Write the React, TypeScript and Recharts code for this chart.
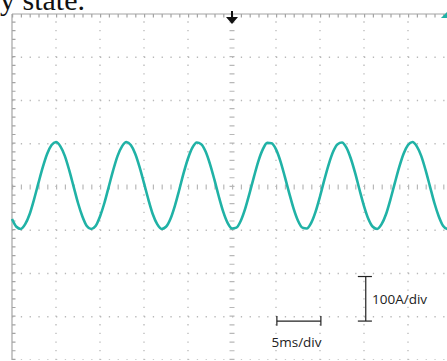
import { LineChart, Line, XAxis, YAxis, ReferenceLine, ReferenceDot } from 'recharts'

// scope capture: phase current, 5 ms/div, 100 A/div, one sample every 0.5 ms
const sampleStepMs = 0.5
const currentA = [
	-74, -92, -97, -86, -63, -29, 9, 46, 77, 97,
	104, 94, 72, 39, 1, -37, -68, -90, -97, -90,
	-68, -37, 1, 39, 72, 94, 104, 97, 77, 46,
	9, -29, -63, -86, -97, -92, -74, -44, -7, 32,
	66, 91, 103, 99, 82, 53, 17, -22, -57, -83,
	-96, -94, -78, -50, -14, 24, 60, 87, 102, 101,
	87, 60, 24, -14, -50, -78, -94, -96, -83, -57,
	-22, 17, 53, 82, 99, 103, 91, 66, 32, -7,
	-44, -74, -92, -97, -86, -63, -29, 9, 46, 77,
	97, 104, 94, 72, 39, 1, -37, -68, -90, -97,
	-90,
]

const gridTimes = [5, 10, 15, 20, 30, 35, 40, 45]
const gridAmps = [-400, -300, -200, -100, 100, 200, 300]

const data = currentA.map((a, i) => ({ t: i * sampleStepMs, a }))

const TriggerArrow = (props: any) => {
	const { cx, cy } = props
	return (
		<g fill='#111'>
			<rect x={cx - 1} y={cy - 3} width={2} height={6} />
			<polygon points={`${cx - 6},${cy + 3} ${cx + 6},${cy + 3} ${cx},${cy + 10}`} />
		</g>
	)
}

const LevelMarker = (props: any) => {
	const { cx, cy } = props
	return <polygon fill='#20b2a6' points={`${cx - 4},${cy + 4} ${cx + 3},${cy - 3} ${cx + 3},${cy + 4}`} />
}

const App = () => {
	const gridColor = '#b8b8b8'
	const frameColor = '#a4a4a4'
	const inkColor = '#222'

	return (
		<div style={{ position: 'absolute', left: 0, top: 0, width: 447, height: 361, overflow: 'hidden', background: '#fff' }}>
			<div style={{ position: 'absolute', left: 0, top: 0 }}>
				<LineChart width={452} height={360} data={data} margin={{ top: 14, right: 0, bottom: 0, left: 12 }}>
					<XAxis type='number' dataKey='t' domain={[0, 50]} hide />
					<YAxis type='number' domain={[-400, 400]} hide />
					{gridTimes.map((t) => (
						<ReferenceLine key={`gx-${t}`} x={t} stroke={gridColor} strokeWidth={1.3} strokeDasharray='1.3 7.35' />
					))}
					{gridAmps.map((a) => (
						<ReferenceLine key={`gy-${a}`} y={a} stroke={gridColor} strokeWidth={1.3} strokeDasharray='1.3 7.5' />
					))}
					<ReferenceLine x={25} stroke={gridColor} strokeWidth={5} strokeDasharray='1.2 7.45' />
					<ReferenceLine y={0} stroke={gridColor} strokeWidth={5} strokeDasharray='1.2 7.6' />

					{/* screen frame with minor ticks on the inside */}
					<ReferenceLine x={0} stroke={frameColor} strokeWidth={1.2} />
					<ReferenceLine x={0.2} stroke={frameColor} strokeWidth={3.5} strokeDasharray='1.2 7.45' />
					<ReferenceLine y={400} stroke={frameColor} strokeWidth={1.2} />
					<ReferenceLine y={396} stroke={frameColor} strokeWidth={3.5} strokeDasharray='1.2 7.6' />

					<ReferenceLine segment={[{ x: 40.2, y: -207 }, { x: 40.2, y: -310 }]} stroke={inkColor} strokeWidth={1.2} />
					<ReferenceLine segment={[{ x: 39.3, y: -207 }, { x: 40.9, y: -207 }]} stroke={inkColor} strokeWidth={1.2} />
					<ReferenceLine segment={[{ x: 39.3, y: -310 }, { x: 40.9, y: -310 }]} stroke={inkColor} strokeWidth={1.2} />
					<ReferenceLine segment={[{ x: 30.1, y: -310 }, { x: 35.1, y: -310 }]} stroke={inkColor} strokeWidth={1.2} />
					<ReferenceLine segment={[{ x: 30.1, y: -298 }, { x: 30.1, y: -321 }]} stroke={inkColor} strokeWidth={1.2} />
					<ReferenceLine segment={[{ x: 35.1, y: -298 }, { x: 35.1, y: -321 }]} stroke={inkColor} strokeWidth={1.2} />

					<Line
						type='monotone'
						dataKey='a'
						stroke='#20b2a6'
						strokeWidth={2.6}
						dot={false}
						isAnimationActive={false}
					/>
					<ReferenceDot x={25} y={400} r={0} ifOverflow='visible' shape={<TriggerArrow />} />
					<ReferenceDot x={49.2} y={400} r={0} ifOverflow='visible' shape={<LevelMarker />} />
				</LineChart>
			</div>
			<svg width={447} height={361} style={{ position: 'absolute', left: 0, top: 0, pointerEvents: 'none' }}>
				<text x={0} y={9.5} fontFamily='Liberation Serif' fontSize={30} fill='#111'>y state.</text>
				<text x={372} y={304} fontFamily='Open Sans' fontSize={13.5} fill={inkColor}>100A/div</text>
				<text x={271.5} y={347} fontFamily='Open Sans' fontSize={13.5} fill={inkColor}>5ms/div</text>
			</svg>
		</div>
	)
}

export default App
